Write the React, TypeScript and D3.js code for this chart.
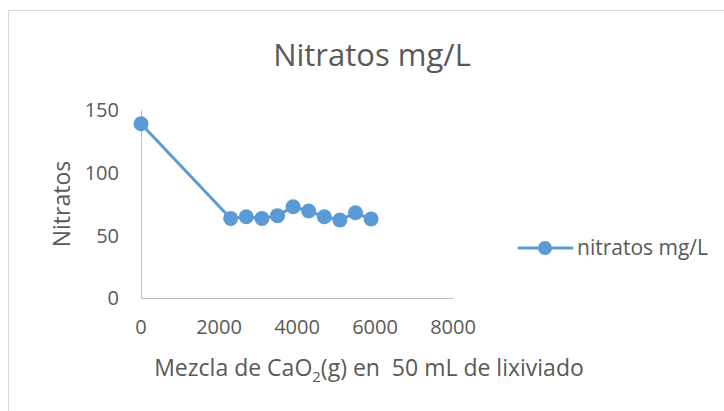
import React, { useEffect, useRef } from 'react';
import * as d3 from 'd3';

// x: mezcla de CaO2 (g), y: nitratos mg/L
const xValues = [0, 2300, 2700, 3100, 3500, 3900, 4300, 4700, 5100, 5500, 5900];
const nitratos = [139, 63.5, 64.8, 63.5, 65.7, 72.8, 69.4, 64.8, 62.2, 68, 63];
const xTicks = [0, 2000, 4000, 6000, 8000];
const yTicks = [0, 50, 100, 150];

const blue = '#5B9BD5';
const grey = '#595959';
const font = '"Open Sans", sans-serif';

export default function App() {
  const ref = useRef<SVGSVGElement>(null);

  useEffect(() => {
    const svg = d3.select(ref.current);
    svg.selectAll('*').remove();

    const w = 724;
    const h = 411;

    // chart frame
    svg.append('rect')
      .attr('x', 8.5).attr('y', 10.5)
      .attr('width', w).attr('height', h)
      .attr('fill', '#fff')
      .attr('stroke', '#D9D9D9');

    const x = d3.scaleLinear().domain([0, 8000]).range([141, 453]);
    const y = d3.scaleLinear().domain([0, 150]).range([298, 110]);

    // title
    svg.append('text')
      .attr('x', 372).attr('y', 66)
      .attr('text-anchor', 'middle')
      .attr('font-family', font)
      .attr('font-size', 31)
      .attr('fill', grey)
      .text('Nitratos mg/L');

    // axes lines
    svg.append('line')
      .attr('x1', x(0) + 0.5).attr('x2', x(0) + 0.5)
      .attr('y1', y(150)).attr('y2', y(0))
      .attr('stroke', '#BFBFBF');
    svg.append('line')
      .attr('x1', x(0)).attr('x2', x(8000))
      .attr('y1', y(0) + 0.5).attr('y2', y(0) + 0.5)
      .attr('stroke', '#BFBFBF');

    // tick labels
    svg.append('g')
      .selectAll('text')
      .data(xTicks)
      .enter()
      .append('text')
      .attr('x', d => x(d))
      .attr('y', 334)
      .attr('text-anchor', 'middle')
      .attr('font-family', font)
      .attr('font-size', 20)
      .attr('fill', grey)
      .text(d => d);

    svg.append('g')
      .selectAll('text')
      .data(yTicks)
      .enter()
      .append('text')
      .attr('x', 119)
      .attr('y', d => y(d))
      .attr('dy', '0.36em')
      .attr('text-anchor', 'end')
      .attr('font-family', font)
      .attr('font-size', 20)
      .attr('fill', grey)
      .text(d => d);

    // axis titles
    svg.append('text')
      .attr('transform', 'translate(70,204) rotate(-90)')
      .attr('text-anchor', 'middle')
      .attr('font-family', font)
      .attr('font-size', 23)
      .attr('fill', grey)
      .text('Nitratos');

    const xt = svg.append('text')
      .attr('x', 369).attr('y', 376)
      .attr('text-anchor', 'middle')
      .attr('font-family', font)
      .attr('font-size', 23)
      .attr('fill', grey)
      .attr('xml:space', 'preserve');
    xt.append('tspan').text('Mezcla de CaO');
    xt.append('tspan').attr('font-size', 15).attr('dy', 6).text('2');
    xt.append('tspan').attr('dy', -6).text('(g) en  50 mL de lixiviado');

    // series
    const line = d3.line<number>()
      .x((d, i) => x(xValues[i]))
      .y(d => y(d));

    svg.append('path')
      .datum(nitratos)
      .attr('d', line)
      .attr('fill', 'none')
      .attr('stroke', blue)
      .attr('stroke-width', 3)
      .attr('stroke-linejoin', 'round');

    svg.append('g')
      .selectAll('circle')
      .data(nitratos)
      .enter()
      .append('circle')
      .attr('cx', (d, i) => x(xValues[i]))
      .attr('cy', d => y(d))
      .attr('r', 7.5)
      .attr('fill', blue);

    // legend
    svg.append('line')
      .attr('x1', 519).attr('x2', 572)
      .attr('y1', 248).attr('y2', 248)
      .attr('stroke', blue)
      .attr('stroke-width', 3)
      .attr('stroke-linecap', 'round');
    svg.append('circle')
      .attr('cx', 545).attr('cy', 248).attr('r', 7)
      .attr('fill', blue);
    svg.append('text')
      .attr('x', 577).attr('y', 255)
      .attr('font-family', font)
      .attr('font-size', 21)
      .attr('fill', grey)
      .text('nitratos mg/L');
  }, []);

  return (
    <svg ref={ref} width={724} height={411} style={{ position: 'absolute', left: 0, top: 0 }} />
  );
}
